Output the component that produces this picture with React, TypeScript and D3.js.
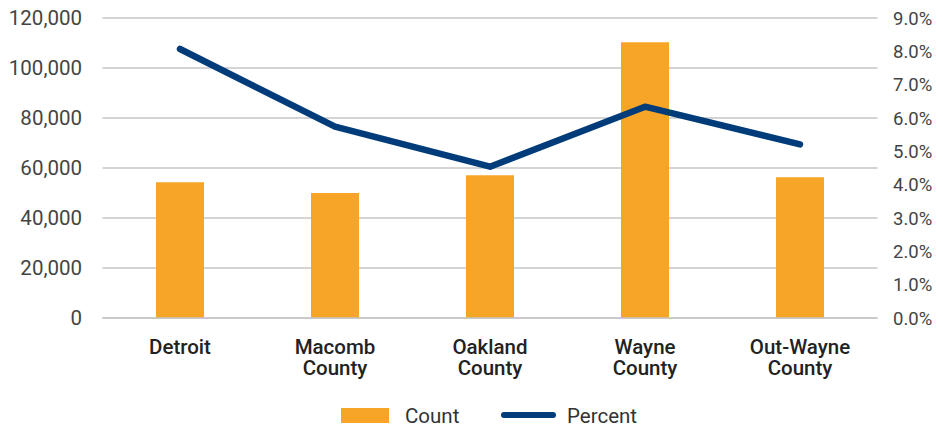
import React from 'react';
import * as d3 from 'd3';

const categories = ['Detroit', 'Macomb County', 'Oakland County', 'Wayne County', 'Out-Wayne County'];
const categoryLines = [['Detroit'], ['Macomb', 'County'], ['Oakland', 'County'], ['Wayne', 'County'], ['Out-Wayne', 'County']];
const counts = [54300, 50000, 57100, 110300, 56300];
const percents = [0.0807, 0.0574, 0.0454, 0.0634, 0.0521];
const countTicks = [0, 20000, 40000, 60000, 80000, 100000, 120000];
const percentTicks = [0, 0.01, 0.02, 0.03, 0.04, 0.05, 0.06, 0.07, 0.08, 0.09];

const App: React.FC = () => {
    const width = 943;
    const height = 427;
    const left = 102.5;
    const right = 877.5;
    const top = 18;
    const bottom = 318;

    const x = d3.scaleBand<string>().domain(categories).range([left, right]).padding(0);
    const barW = 48;
    const yL = d3.scaleLinear().domain([0, 120000]).range([bottom, top]);
    const yR = d3.scaleLinear().domain([0, 0.09]).range([bottom, top]);

    const fmtCount = d3.format(',');
    const fmtPct = d3.format('.1%');

    const line = d3.line<number>()
        .x((_, i) => (x(categories[i]) ?? 0) + x.bandwidth() / 2)
        .y(d => yR(d));

    const font = 'Roboto, sans-serif';
    const cx = (i: number) => (x(categories[i]) ?? 0) + x.bandwidth() / 2;

    return (
        <svg width={width} height={height} style={{ position: 'absolute', left: 0, top: 0, background: '#fff' }}>
            {countTicks.map(t => (
                <g key={t}>
                    <line x1={left} x2={right} y1={yL(t)} y2={yL(t)} stroke="#c6c6ca" strokeWidth={1.3} />
                    <text x={82} y={yL(t)} dy="0.36em" textAnchor="end" fontFamily={font} fontSize={20.5} fill="#444">
                        {fmtCount(t)}
                    </text>
                </g>
            ))}
            {percentTicks.map(t => (
                <text key={t} x={893} y={yR(t)} dy="0.36em" textAnchor="start" fontFamily={font} fontSize={18.5} fill="#444">
                    {fmtPct(t)}
                </text>
            ))}
            {counts.map((c, i) => (
                <rect
                    key={i}
                    x={cx(i) - barW / 2}
                    y={yL(c)}
                    width={barW}
                    height={bottom - yL(c)}
                    fill="#f7a526"
                />
            ))}
            <line x1={left} x2={right} y1={bottom} y2={bottom} stroke="#c6c6ca" strokeWidth={1.3} />
            <path
                d={line(percents) || undefined}
                fill="none"
                stroke="#003b7a"
                strokeWidth={6.5}
                strokeLinecap="round"
                strokeLinejoin="round"
            />
            {categoryLines.map((lines, i) => (
                <text key={i} textAnchor="middle" fontFamily={font} fontWeight={500} fontSize={20.5} fill="#222">
                    {lines.map((l, j) => (
                        <tspan key={j} x={cx(i)} y={354 + j * 21}>
                            {l}
                        </tspan>
                    ))}
                </text>
            ))}
            <g>
                <rect x={341} y={408} width={48} height={15} fill="#f7a526" />
                <text x={405} y={423} fontFamily={font} fontSize={20.5} fill="#333">Count</text>
                <line x1={504} x2={553} y1={415} y2={415} stroke="#003b7a" strokeWidth={6} strokeLinecap="round" />
                <text x={567} y={423} fontFamily={font} fontSize={20.5} fill="#333">Percent</text>
            </g>
        </svg>
    );
};

export default App;
